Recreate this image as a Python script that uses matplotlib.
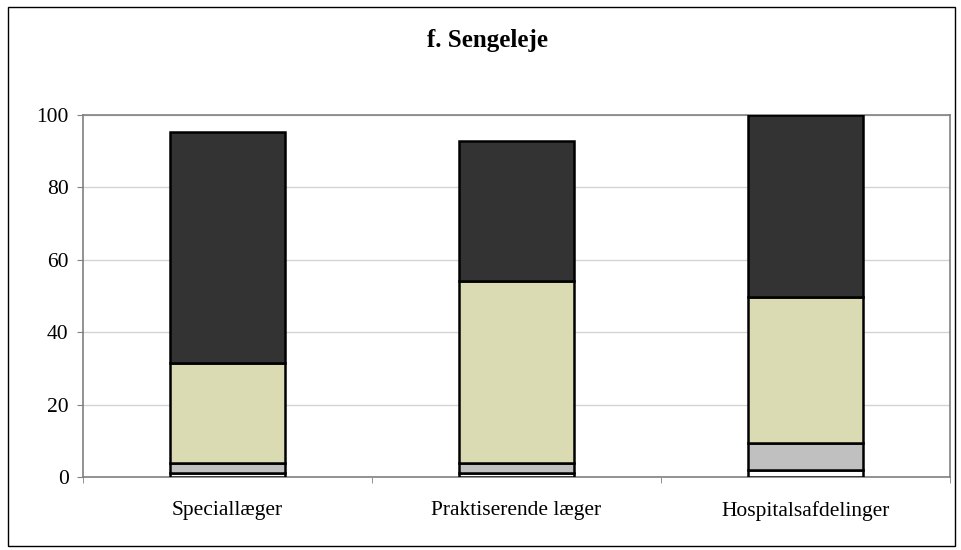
import numpy as np
import matplotlib
matplotlib.use("Agg")
import matplotlib.pyplot as plt
from matplotlib.patches import Rectangle

categories = ["Speciallæger", "Praktiserende læger", "Hospitalsafdelinger"]
seg_white = [1.0, 1.0, 2.0]
seg_gray = [3.0, 3.0, 7.5]
seg_pale = [27.5, 50.1, 40.2]
seg_dark = [63.7, 38.7, 50.3]
yticks = [0, 20, 40, 60, 80, 100]

SERIES = [
    (seg_white, "#ffffff"),
    (seg_gray, "#c0c0c0"),
    (seg_pale, "#dbdbb3"),
    (seg_dark, "#333333"),
]

plt.rcParams["font.family"] = ["Liberation Serif", "DejaVu Serif"]

fig = plt.figure(figsize=(9.62, 5.5), dpi=100)
ax = fig.add_axes([0.0863, 0.1327, 0.9012, 0.6582])

# outer chart frame
fig.patches.append(Rectangle((8 / 962, 4 / 550), 947 / 962, 539 / 550,
                             transform=fig.transFigure, fill=False,
                             edgecolor="black", linewidth=1.0))

x = np.arange(len(categories))
bottom = np.zeros(len(categories))
for vals, col in SERIES:
    ax.bar(x, vals, width=0.4, bottom=bottom, color=col,
           edgecolor="black", linewidth=1.8, zorder=3)
    bottom += np.array(vals)

ax.set_xlim(-0.5, len(categories) - 0.5)
ax.set_ylim(0, 100)
ax.set_yticks(yticks)
ax.yaxis.grid(True, color="#d4d4d4", linewidth=1.0, zorder=0)
ax.set_axisbelow(True)

ax.set_xticks(x)
ax.set_xticklabels(categories, fontsize=15.5)
ax.tick_params(axis="x", length=0, pad=17)
ax.set_xticks(np.arange(len(categories) + 1) - 0.5, minor=True)
ax.tick_params(axis="x", which="minor", length=4.5, color="#808080", direction="out")
ax.tick_params(axis="y", labelsize=15.5, length=4.3, color="#808080", pad=6)

for sp in ax.spines.values():
    sp.set_color("#808080")
    sp.set_linewidth(1.2)

fig.text(488 / 962, 1 - 41 / 550, "f. Sengeleje", ha="center", va="center",
         fontsize=18, fontweight="bold")

fig.savefig("out.png", dpi=100)
